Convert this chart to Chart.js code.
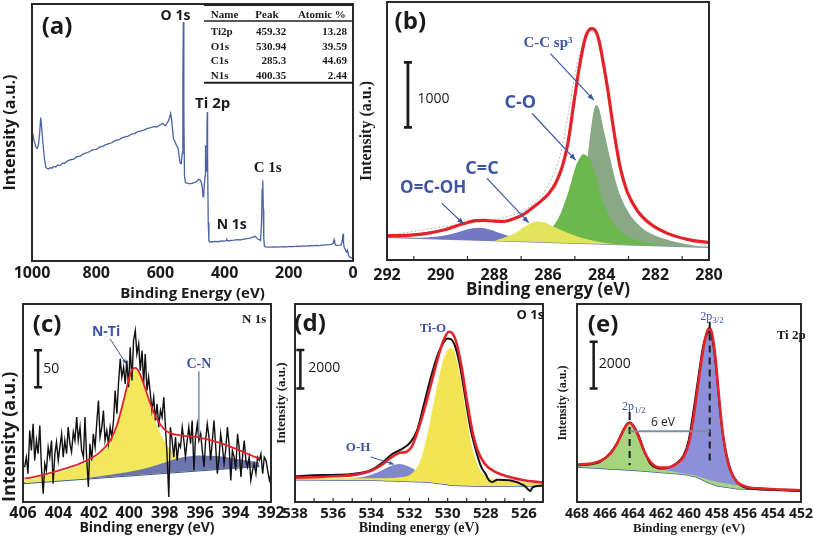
<!DOCTYPE html>
<html><head><meta charset="utf-8">
<script src="https://cdn.jsdelivr.net/npm/chart.js@4/dist/chart.umd.min.js"></script>
<style>
html,body{margin:0;padding:0;background:#fff}
body{width:813px;height:537px;position:relative;overflow:hidden}
canvas{position:absolute}
</style></head><body>
<canvas id="ca"></canvas><canvas id="cb"></canvas><canvas id="cc"></canvas><canvas id="cd"></canvas><canvas id="ce"></canvas>
<script>
// ===================== DATA =====================
// (a) survey spectrum: binding energy (eV) / intensity (a.u.)
const surveyE = [1000,997,993,988,984,980,976,973,970,966,961,957,953,948,944,938,932,926,920,912,905,898,890,880,870,860,850,840,830,820,810,800,790,780,770,760,750,740,730,720,710,700,690,680,670,660,650,640,630,620,610,600,592,585,580,575,571,568,565,562,559,555,550,545,541,538,535,532,530,528.5,527,525,522,515,508,500,492,486,481,477,473,470,467,465,463,461,460,459,457,455,454,453,451,449,446,440,430,420,410,400,395,393,390,380,370,360,350,340,330,320,310,305,300,295,291,288,285,283,281,279.5,278,276,273,265,255,245,235,225,215,205,195,185,175,165,155,145,135,125,115,105,95,85,75,68,62,59,57,54,48,42,37,34,31,29.5,27,24,21,19,17,14,10,5,0];
const surveyI = [49.6,49,46.5,44.5,43.8,45,50,55.8,52,46,39.5,36.5,36,35.8,36.3,36.1,36.8,36.6,37.4,37.2,38.1,38,38.9,39.4,39.6,40.6,40.8,41.7,42.1,42.6,43.3,43.4,44.3,44.6,45.3,45.7,46.1,46.9,47.1,47.9,48.3,48.6,49.4,49.6,50.3,50.6,51,51.6,51.9,52.3,52.2,53,53.6,52.6,53.5,54.5,56,57.4,55,51,47.5,46.5,45,44,40,38,37.9,42,70,93,60,33,30.5,30.2,30,30.3,30.6,31,31.8,31.6,30.8,29,25,26,30,33,45,41,35,50,58,40,15,8,7.4,7.4,7.6,7.5,7.8,7.7,8,8.4,7.8,8,8.1,8.3,8.2,8.5,8.7,8.9,9.4,9.6,9,8.4,8.3,8,15,28,31.4,20,9,5.8,5.5,5.4,5.4,5.5,5.4,5.5,5.6,5.5,5.7,5.6,5.8,5.7,5.9,5.8,6,5.9,6.1,6,6.2,6.3,6.4,6.5,6.8,8.3,7,6.2,6.1,6.2,6.3,7.5,10.6,7,5,4.6,3.5,3.6,4.2,2.2,1.6,1.2,1.0];
const surveyTicks = [0,200,400,600,800,1000];
const tableNames = ['Ti2p','O1s','C1s','N1s'];
const tablePeaks = [459.32,530.94,285.3,400.35];
const tableAtomic = [13.28,39.59,44.69,2.44];

// (b) C 1s
const c1sE = [292,291.13,290.51,289.89,289.39,289.02,288.71,288.39,288.02,287.65,287.28,286.9,286.53,286.22,285.97,285.72,285.47,285.26,285.04,284.81,284.6,284.46,284.35,284.23,284.1,283.98,283.79,283.54,283.3,283.05,282.67,282.18,281.55,280.81,280];
const c1sEnv = [374,384,410,461,528,574,605,610,599,594,635,707,820,922,1025,1178,1434,1793,2408,3023,3432,3545,3560,3525,3381,3125,2664,1972,1409,1050,758,553,410,318,266];
const c1sRawE = [292,290.69,289.26,288.02,286.78,286.03,285.53,285.22,284.91,284.6,284.29,284.04,283.73,283.42,283.05,282.43,281.43,280];
const c1sRaw = [374,461,553,625,794,1127,1639,2305,3023,3407,3509,3227,2510,1691,1076,666,410,205];
const c1sBaseE = [292,286,280];
const c1sBase = [348,272,195];
const ocohE = [291.0,290.51,289.89,289.39,289.02,288.58,288.15,287.77,287.28,286.53,286.2];
const ocohI = [335,348,374,425,471,497,466,410,348,287,275];
const ccE = [288.0,287.65,287.15,286.78,286.4,286.09,285.66,285.16,284.54,283.79,283.0];
const ccI = [297,343,430,533,594,574,487,400,318,256,233];
const coE = [286.6,286.28,285.91,285.53,285.22,284.97,284.79,284.69,284.54,284.35,284.17,283.92,283.54,283.05,282.43,281.55,281.0];
const coI = [280,318,461,717,1076,1434,1588,1629,1598,1460,1230,871,553,369,277,220,208];
const sp3E = [285.9,285.53,285.16,284.85,284.6,284.42,284.29,284.22,284.1,283.92,283.67,283.42,283.05,282.55,282.05,281.43,280.68,280.2];
const sp3I = [271,384,512,820,1332,1947,2305,2382,2331,1998,1537,1127,768,512,384,297,231,198];
const c1sTicks = [280,282,284,286,288,290,292];

// (c) N 1s
const n1sRawE = [405.91,405.81,405.72,405.62,405.53,405.43,405.34,405.24,405.15,405.05,404.96,404.86,404.77,404.68,404.58,404.49,404.39,404.30,404.20,404.11,404.01,403.92,403.82,403.73,403.64,403.54,403.45,403.35,403.26,403.16,403.07,402.97,402.88,402.78,402.69,402.59,402.50,402.41,402.31,402.22,402.12,402.03,401.93,401.84,401.74,401.65,401.55,401.46,401.37,401.27,401.18,401.08,400.99,400.89,400.80,400.70,400.61,400.51,400.42,400.32,400.23,400.14,400.04,399.95,399.85,399.76,399.66,399.57,399.47,399.38,399.28,399.19,399.10,399.00,398.91,398.81,398.72,398.62,398.53,398.43,398.34,398.24,398.15,398.05,397.96,397.87,397.77,397.68,397.58,397.49,397.39,397.30,397.20,397.11,397.01,396.92,396.83,396.73,396.64,396.54,396.45,396.35,396.26,396.16,396.07,395.97,395.88,395.78,395.69,395.60,395.50,395.41,395.31,395.22,395.12,395.03,394.93,394.84,394.74,394.65,394.56,394.46,394.37,394.27,394.18,394.08,393.99,393.89,393.80,393.70,393.61,393.51,393.42,393.33,393.23,393.14,393.04,392.95,392.85,392.76,392.66,392.57,392.47,392.38,392.28,392.19,392.09,392.00];
const n1sRaw = [47.3,60.8,38.3,96.8,69.8,105.8,56.3,83.3,65.3,103.6,47.3,11.3,51.8,42.8,74.3,60.8,83.3,24.8,65.3,81.1,56.3,74.3,92.3,60.8,83.3,65.3,101.3,78.8,67.6,94.6,83.3,114.9,83.3,101.3,69.8,60.8,114.9,60.8,20.3,78.8,56.3,92.3,74.3,105.8,137.4,87.8,101.3,123.9,83.3,96.8,78.8,101.3,87.8,110.3,150.9,119.4,159.9,193.7,168.9,182.4,159.9,191.4,155.4,209.4,164.4,218.4,232.0,200.4,213.9,177.9,204.9,159.9,200.4,150.9,168.9,146.4,123.9,141.9,110.3,132.9,101.3,123.9,114.9,141.9,101.3,65.3,6.8,101.3,83.3,60.8,87.8,56.3,78.8,74.3,101.3,83.3,60.8,83.3,101.3,78.8,110.3,42.8,87.8,105.8,83.3,92.3,69.8,47.3,83.3,105.8,87.8,56.3,83.3,110.3,74.3,38.3,60.8,92.3,74.3,51.8,69.8,101.3,78.8,29.3,69.8,60.8,42.8,92.3,74.3,33.8,60.8,83.3,56.3,47.3,60.8,29.3,42.8,51.8,38.3,60.8,56.3,65.3,38.3,60.8,56.3,42.8,29.3,38.3];
const n1sEnvE = [405.91,405.43,404.49,403.54,402.59,401.65,401.08,400.7,400.32,400.04,399.85,399.66,399.47,399.19,398.81,398.43,398.05,397.68,397.11,396.54,395.97,395.03,394.08,393.33,392.66];
const n1sEnv = [31.5,33.8,39.2,45.9,54.0,67.6,83.3,103.6,137.4,164.4,178.8,181.5,177.0,159.9,132.9,111.7,99.1,93.2,90.1,88.7,86.9,81.1,73.0,65.3,58.6];
const ntiE = [405.91,404.49,403.54,402.59,401.65,401.08,400.7,400.32,400.04,399.76,399.47,399.19,398.81,398.43,398.05,397.68,397.3,397.01,396.73,395.97,394.08,392.66];
const ntiI = [29.3,36.9,43.7,51.8,65.3,81.1,101.3,135.1,162.1,179.3,174.3,156.3,128.4,103.6,83.3,70.7,63.1,56.0,47.0,44.5,47.5,50.0];
const cnE = [402.5,401.65,399.76,398.81,397.87,396.92,395.97,395.03,394.08,393.14,392.66];
const cnI = [31.7,34.7,41.9,47.3,54.5,60.8,63.1,62.2,59.0,55.4,53.6];
const n1sBaseE = [406,392.66];
const n1sBase = [25.4,48.6];
const n1sTicks = [392,394,396,398,400,402,404,406];

// (d) O 1s
const o1sEnvE = [538,536.65,535.72,534.79,534.04,533.48,532.92,532.54,532.17,531.89,531.61,531.23,530.86,530.49,530.21,529.93,529.74,529.55,529.27,528.99,528.71,528.43,528.06,527.5,526.75,526,525.25,524.69];
const o1sEnv = [1269,1304,1356,1426,1617,1913,2348,2556,2609,2869,3565,4782,6173,7565,8434,8869,8782,8347,7043,5304,3739,2695,2000,1565,1304,1130,1043,991];
const o1sRawE = [538,537.03,536.09,535.16,534.04,533.48,532.92,532.36,531.98,531.61,531.23,530.86,530.49,530.21,530.02,529.83,529.64,529.36,529.08,528.8,528.52,528.24,528.02,527.83,527.64,527.4,526.75,526,525.66,525.53,524.69];
const o1sRaw = [1339,1391,1409,1443,1652,2000,2487,2782,3078,3704,5130,6556,7739,8312,8521,8486,8208,7130,5478,3826,2695,1826,1478,1130,1043,1165,1130,870,574,783,870];
const tioE = [538,535.72,533.85,532.36,531.79,531.42,531.05,530.77,530.49,530.21,529.96,529.83,529.64,529.36,529.08,528.8,528.52,528.24,527.87,527.31,526.37,524.69];
const tioI = [1235,1235,1235,1304,1565,2174,3565,4956,6347,7478,7947,8034,7826,6695,4956,3217,2174,1565,1269,1130,1043,991];
const ohE = [535.16,534.22,533.66,533.1,532.73,532.5,532.17,531.79,531.42,530.86,530.11];
const ohI = [1217,1356,1548,1826,1948,1982,1896,1722,1478,1217,1043];
const o1sBaseE = [538,533.85,531.05,529.74,528.24,524.69];
const o1sBase = [1165,1130,1043,870,817,852];
const o1sTicks = [526,528,530,532,534,536,538];

// (e) Ti 2p
const tiEnvE = [468,467.05,466.33,465.62,465.14,464.79,464.48,464.24,463.95,463.6,463.24,462.76,462.29,461.81,461.33,460.86,460.38,460.02,459.67,459.31,458.95,458.71,458.52,458.36,458.12,457.88,457.64,457.4,457.05,456.57,455.86,454.67,453.24,452];
const tiEnv = [1600,1643,1758,2072,2501,2929,3287,3401,3215,2787,2215,1715,1500,1472,1500,1643,1929,2501,3644,5216,6645,7288,7431,7216,6216,4644,3215,2215,1358,857,643,572,529,500];
const tiRawE = [468,467.05,466.33,465.62,465.14,464.79,464.48,464.24,463.95,463.6,463.24,462.76,462.29,461.81,461.33,460.86,460.38,460.02,459.67,459.31,458.95,458.71,458.52,458.24,458,457.76,457.52,457.17,456.81,456.33,455.62,454.43,453.24,452];
const tiRaw = [1572,1615,1729,2101,2529,2958,3301,3387,3244,2858,2258,1643,1458,1429,1500,1672,2001,2644,3930,5430,6788,7216,7288,6645,5359,3787,2644,1643,1072,715,572,529,500,472];
const p12E = [468,466.81,465.86,465.14,464.67,464.24,463.83,463.48,463,462.52,462.05,461.33,460.38,459.19,458.48,457.52,455.62,453.24,452];
const p12I = [1572,1643,1958,2472,3001,3358,3144,2644,2001,1615,1429,1329,1215,1072,929,815,643,557,529];
const p32E = [462.76,461.57,460.86,460.38,460.02,459.67,459.31,458.95,458.71,458.52,458.36,458.12,457.88,457.64,457.4,457.05,456.69,456.33,455.86];
const p32I = [1386,1429,1572,1858,2429,3573,5144,6573,7216,7388,7188,6188,4616,3215,2215,1429,929,643,557];
const tiBaseE = [468,463.95,460.38,459.43,458.71,458,456.57,452];
const tiBase = [1500,1358,1186,1072,857,700,572,472];
const tiTicks = [452,454,456,458,460,462,464,466,468];

// ===================== HELPERS =====================
const SANS = "'Open Sans', Roboto, 'DejaVu Sans', sans-serif";
const SERIF = "'Liberation Serif', 'DejaVu Serif', serif";
const TXT = '#1a1a1a';
const BLUE = '#3d55a3';
const RED = '#e3232a';
Chart.defaults.font.family = SANS;

const P = (xs, ys) => xs.map((x, i) => ({x, y: ys[i]}));
function L(xs, ys, color, w, extra) {
  return Object.assign({data: P(xs, ys), borderColor: color, borderWidth: w, pointRadius: 0, fill: false, tension: 0}, extra || {});
}
function F(xs, ys, color, target) {
  return {data: P(xs, ys), borderColor: 'rgba(0,0,0,0)', borderWidth: 0, backgroundColor: color,
          pointRadius: 0, fill: target, cubicInterpolationMode: 'monotone'};
}
const f = (size, weight, family) => `${weight || 'normal'} ${size}px ${family || SANS}`;

function annotPlugin(items) {
  return {id: 'annot', afterDraw(chart) {
    const ctx = chart.ctx, sx = chart.scales.x, sy = chart.scales.y;
    const X = v => sx.getPixelForValue(v), Y = v => sy.getPixelForValue(v);
    ctx.save();
    for (const it of items) {
      if (it.t === 'text') {
        ctx.font = it.font; ctx.fillStyle = it.color || TXT;
        ctx.textAlign = it.align || 'center'; ctx.textBaseline = 'middle';
        ctx.fillText(it.s, X(it.x), Y(it.y));
      } else if (it.t === 'sub') {
        ctx.fillStyle = it.color || TXT; ctx.textBaseline = 'alphabetic'; ctx.textAlign = 'left';
        ctx.font = it.font; const w1 = ctx.measureText(it.s).width;
        ctx.font = it.subFont; const w2 = ctx.measureText(it.sub).width;
        const x0 = X(it.x) - (w1 + w2) / 2, yb = Y(it.y) + 4;
        ctx.font = it.font; ctx.fillText(it.s, x0, yb);
        ctx.font = it.subFont; ctx.fillText(it.sub, x0 + w1, yb + 3);
      } else if (it.t === 'line') {
        const x1 = X(it.x1), y1 = Y(it.y1), x2 = X(it.x2), y2 = Y(it.y2);
        ctx.strokeStyle = it.color; ctx.lineWidth = it.w; ctx.setLineDash(it.dash || []);
        ctx.beginPath(); ctx.moveTo(x1, y1); ctx.lineTo(x2, y2); ctx.stroke(); ctx.setLineDash([]);
        if (it.arrow) {
          const a = Math.atan2(y2 - y1, x2 - x1), h = it.arrow;
          ctx.fillStyle = it.color; ctx.beginPath(); ctx.moveTo(x2, y2);
          ctx.lineTo(x2 - h * Math.cos(a - 0.38), y2 - h * Math.sin(a - 0.38));
          ctx.lineTo(x2 - h * Math.cos(a + 0.38), y2 - h * Math.sin(a + 0.38));
          ctx.closePath(); ctx.fill();
        }
      } else if (it.t === 'bar') {
        const x = X(it.x), y1 = Y(it.y1), y2 = Y(it.y2), c = it.cap || 4;
        ctx.strokeStyle = TXT; ctx.lineWidth = it.w || 2.5;
        ctx.beginPath(); ctx.moveTo(x, y1); ctx.lineTo(x, y2);
        ctx.moveTo(x - c, y1); ctx.lineTo(x + c, y1); ctx.moveTo(x - c, y2); ctx.lineTo(x + c, y2); ctx.stroke();
      }
    }
    ctx.restore();
  }};
}
function framePlugin(lw, minor) {
  return {id: 'frame', afterDatasetsDraw(chart) {
    const ctx = chart.ctx, a = chart.chartArea;
    ctx.save(); ctx.strokeStyle = '#2a2a2a'; ctx.lineWidth = lw;
    ctx.strokeRect(a.left, a.top, a.right - a.left, a.bottom - a.top);
    if (minor) {
      ctx.lineWidth = 1.2; ctx.beginPath();
      for (const v of minor) { const x = chart.scales.x.getPixelForValue(v); ctx.moveTo(x, a.bottom); ctx.lineTo(x, a.bottom - 4); }
      ctx.stroke();
    }
    ctx.restore();
  }};
}

function panel(id, fr, c) {
  const cv = document.getElementById(id);
  const W = fr.R - fr.L + c.wy + c.pr, H = fr.B - fr.T + c.pt + c.hx;
  cv.width = W; cv.height = H;
  cv.style.left = (fr.L - c.wy) + 'px'; cv.style.top = (fr.T - c.pt) + 'px';
  cv.style.width = W + 'px'; cv.style.height = H + 'px';
  return new Chart(cv, {
    type: 'line',
    data: {datasets: c.datasets},
    options: {
      responsive: false, maintainAspectRatio: false, animation: false, devicePixelRatio: 1,
      layout: {padding: {left: 0, top: c.pt, right: c.pr, bottom: 0}},
      plugins: {legend: {display: false}, tooltip: {enabled: false}},
      scales: {
        x: {type: 'linear', reverse: true, min: c.xmin, max: c.xmax,
            grid: {display: false, drawTicks: false}, border: {display: false},
            ticks: {autoSkip: false, maxRotation: 0, minRotation: 0, padding: c.tickPad, color: TXT,
                    font: c.tickFont, callback: v => String(v)},
            afterBuildTicks: s => { s.ticks = c.ticks.map(v => ({value: v})); },
            afterFit: s => { s.height = c.hx; },
            title: {display: true, text: c.xTitle, color: TXT, font: c.xTitleFont, padding: {top: 0, bottom: c.xTitlePad}}},
        y: {type: 'linear', min: c.ymin, max: c.ymax,
            grid: {display: false, drawTicks: false}, border: {display: false},
            ticks: {display: false},
            afterFit: s => { s.width = c.wy; },
            title: {display: true, text: c.yTitle, color: TXT, font: c.yTitleFont, align: c.yAlign || 'center',
                    padding: {top: c.yTitlePad, bottom: 0}}}
      }
    },
    plugins: [framePlugin(2, c.minor), annotPlugin(c.annot)]
  });
}

// ===================== (a) =====================
const tableItems = [];
const TF = f(11, 'bold', SERIF);
tableItems.push({t: 'line', x1: 464, y1: 99.6, x2: 1, y2: 99.6, color: '#222', w: 2});
tableItems.push({t: 'line', x1: 464, y1: 93.4, x2: 1, y2: 93.4, color: '#222', w: 1.5});
tableItems.push({t: 'line', x1: 464, y1: 69.4, x2: 1, y2: 69.4, color: '#222', w: 2});
tableItems.push({t: 'text', s: 'Name', x: 443, y: 95.6, font: TF, align: 'left'});
tableItems.push({t: 'text', s: 'Peak', x: 268, y: 95.6, font: TF});
tableItems.push({t: 'text', s: 'Atomic %', x: 97, y: 95.6, font: TF});
const rowY = [89.0, 83.3, 77.6, 71.9];
tableNames.forEach((n, i) => {
  tableItems.push({t: 'text', s: n, x: 443, y: rowY[i], font: TF, align: 'left'});
  tableItems.push({t: 'text', s: String(tablePeaks[i]), x: 208, y: rowY[i], font: TF, align: 'right'});
  tableItems.push({t: 'text', s: String(tableAtomic[i]), x: 19, y: rowY[i], font: TF, align: 'right'});
});
panel('ca', {L: 32, T: 4, R: 353, B: 261}, {
  wy: 32, pr: 20, pt: 4, hx: 42, xmin: 0, xmax: 1000, ymin: 0, ymax: 100, ticks: surveyTicks,
  tickPad: 3, tickFont: {size: 16, weight: 'bold', family: SANS},
  xTitle: 'Binding Energy (eV)', xTitleFont: {size: 15, weight: 'bold', family: SANS, lineHeight: 1}, xTitlePad: 2,
  yTitle: 'Intensity (a.u.)', yTitleFont: {size: 16, weight: 'bold', family: SANS, lineHeight: 1}, yTitlePad: 2,
  datasets: [L(surveyE, surveyI, '#4a63a7', 1.3)],
  annot: tableItems.concat([
    {t: 'text', s: '(a)', x: 922, y: 90.9, font: f(24, 'bold')},
    {t: 'text', s: 'O 1s', x: 553, y: 95.2, font: f(14, 'bold')},
    {t: 'text', s: 'Ti 2p', x: 437, y: 61, font: f(15, 'bold')},
    {t: 'text', s: 'C 1s', x: 266, y: 36, font: f(15, 'bold', SERIF)},
    {t: 'text', s: 'N 1s', x: 378, y: 13.9, font: f(14, 'bold')}
  ])
});

// ===================== (b) =====================
panel('cb', {L: 387, T: 2, R: 709, B: 260}, {
  wy: 30, pr: 20, pt: 2, hx: 40, xmin: 280, xmax: 292, ymin: 0, ymax: 3970, ticks: c1sTicks,
  minor: [281, 283, 285, 287, 289, 291],
  tickPad: 6, tickFont: {size: 16, weight: 'bold', family: SANS},
  xTitle: 'Binding energy (eV)', xTitleFont: {size: 17, weight: 'bold', family: SANS, lineHeight: 1}, xTitlePad: 1.5,
  yTitle: 'Intensity (a.u.)', yTitleFont: {size: 16, weight: 'bold', family: SERIF, lineHeight: 1}, yTitlePad: 2,
  datasets: [
    L(c1sE, c1sEnv, RED, 3.2, {cubicInterpolationMode: 'monotone'}),
    L(c1sRawE, c1sRaw, '#b4b4b4', 1, {borderDash: [2, 2], cubicInterpolationMode: 'monotone'}),
    F(ccE, ccI, '#e4e45c', 7),
    F(ocohE, ocohI, '#7378c4', 7),
    F(coE, coI, '#6db74f', 7),
    F(sp3E, sp3I, '#88a886', 7),
    L(c1sBaseE, c1sBase, 'rgba(0,0,0,0)', 0),
    L(c1sBaseE, c1sBase, '#8088b4', 1.3)
  ],
  annot: [
    {t: 'text', s: '(b)', x: 291.13, y: 3663, font: f(24, 'bold')},
    {t: 'bar', x: 291.22, y1: 2040, y2: 3040, cap: 4, w: 2.8},
    {t: 'text', s: '1000', x: 290.86, y: 2484, font: f(14), align: 'left'},
    {t: 'text', s: 'C-C sp³', x: 286.0, y: 3340, font: f(15, 'bold', SERIF), color: BLUE},
    {t: 'line', x1: 285.91, y1: 3176, x2: 284.29, y2: 2459, color: BLUE, w: 1.2, arrow: 7},
    {t: 'text', s: 'C-O', x: 287.03, y: 2418, font: f(18, 'bold'), color: BLUE},
    {t: 'line', x1: 286.59, y1: 2254, x2: 284.97, y2: 1537, color: BLUE, w: 1.2, arrow: 7},
    {t: 'text', s: 'C=C', x: 288.46, y: 1409, font: f(18, 'bold'), color: BLUE},
    {t: 'line', x1: 288.27, y1: 1255, x2: 286.72, y2: 574, color: BLUE, w: 1.2, arrow: 7},
    {t: 'text', s: 'O=C-OH', x: 290.28, y: 1101, font: f(17, 'bold'), color: BLUE},
    {t: 'line', x1: 289.95, y1: 871, x2: 289.14, y2: 553, color: BLUE, w: 1.2, arrow: 7}
  ]
});

// ===================== (c) =====================
panel('cc', {L: 23, T: 304, R: 271, B: 502}, {
  wy: 23, pr: 20, pt: 4, hx: 35, xmin: 392, xmax: 406, ymin: 0, ymax: 268, ticks: n1sTicks,
  tickPad: 2, tickFont: {size: 16, weight: 'bold', family: SANS},
  xTitle: 'Binding energy (eV)', xTitleFont: {size: 14, weight: 'bold', family: SANS, lineHeight: 1}, xTitlePad: 2,
  yTitle: 'Intensity (a.u.)', yTitleFont: {size: 18, weight: 'bold', family: SANS, lineHeight: 1}, yTitlePad: 1, yAlign: 'start',
  datasets: [
    L(n1sEnvE, n1sEnv, RED, 1.8, {cubicInterpolationMode: 'monotone'}),
    L(n1sRawE, n1sRaw, '#111', 1.4),
    F(cnE, cnI, '#6d75ad', 4),
    F(ntiE, ntiI, '#f3e75c', 4),
    L(n1sBaseE, n1sBase, '#2f54a5', 2)
  ],
  annot: [
    {t: 'text', s: '(c)', x: 404.64, y: 240, font: f(24, 'bold')},
    {t: 'text', s: 'N 1s', x: 392.95, y: 246.8, font: f(13, 'bold', SERIF)},
    {t: 'text', s: 'N-Ti', x: 401.31, y: 229.7, font: f(14, 'bold'), color: BLUE},
    {t: 'line', x1: 401.08, y1: 220.7, x2: 400.17, y2: 186.9, color: BLUE, w: 1, arrow: 5},
    {t: 'text', s: 'C-N', x: 396.07, y: 186.9, font: f(14, 'bold', SERIF), color: BLUE},
    {t: 'line', x1: 396.07, y1: 177, x2: 396.07, y2: 87.8, color: '#5a6db0', w: 1.2},
    {t: 'bar', x: 405.15, y1: 155.4, y2: 205.4, cap: 4, w: 2.5},
    {t: 'text', s: '50', x: 404.86, y: 180, font: f(14), align: 'left'}
  ]
});

// ===================== (d) =====================
panel('cd', {L: 295, T: 304, R: 543, B: 502}, {
  wy: 25, pr: 20, pt: 4, hx: 35, xmin: 525, xmax: 538, ymin: 0, ymax: 10313, ticks: o1sTicks,
  minor: [526, 527, 528, 529, 530, 531, 532, 533, 534, 535, 536, 537],
  tickPad: 3, tickFont: {size: 15, weight: 'bold', family: SANS},
  xTitle: 'Binding energy (eV)', xTitleFont: {size: 14, weight: 'bold', family: SERIF, lineHeight: 1}, xTitlePad: 2,
  yTitle: 'Intensity (a.u.)', yTitleFont: {size: 13, weight: 'bold', family: SERIF, lineHeight: 1}, yTitlePad: 5,
  datasets: [
    L(o1sEnvE, o1sEnv, RED, 2.6, {cubicInterpolationMode: 'monotone'}),
    L(o1sRawE, o1sRaw, '#111', 2, {cubicInterpolationMode: 'monotone'}),
    F(tioE, tioI, '#f3e552', 4),
    F(ohE, ohI, '#8088c9', 4),
    L(o1sBaseE, o1sBase, '#3b5aa5', 1.6)
  ],
  annot: [
    {t: 'text', s: '(d)', x: 537.21, y: 9269, font: f(24, 'bold')},
    {t: 'text', s: 'O 1s', x: 525.66, y: 9738, font: f(13, 'bold')},
    {t: 'text', s: 'Ti-O', x: 530.77, y: 9043, font: f(13, 'bold', SERIF), color: BLUE},
    {t: 'text', s: 'O-H', x: 534.69, y: 2835, font: f(13, 'bold', SERIF), color: BLUE},
    {t: 'line', x1: 534.04, y1: 2348, x2: 532.82, y2: 1965, color: BLUE, w: 1, arrow: 5},
    {t: 'bar', x: 537.72, y1: 5913, y2: 7912, cap: 4, w: 2.5},
    {t: 'text', s: '2000', x: 537.31, y: 6956, font: f(14), align: 'left'}
  ]
});

// ===================== (e) =====================
panel('ce', {L: 577, T: 304, R: 801, B: 502}, {
  wy: 20, pr: 12, pt: 4, hx: 35, xmin: 452, xmax: 468, ymin: 0, ymax: 8474, ticks: tiTicks,
  tickPad: 4, tickFont: {size: 14, weight: 'bold', family: SANS},
  xTitle: 'Binding energy (eV)', xTitleFont: {size: 13, weight: 'bold', family: SERIF, lineHeight: 1}, xTitlePad: 2,
  yTitle: 'Intensity (a.u.)', yTitleFont: {size: 12, weight: 'bold', family: SERIF, lineHeight: 1}, yTitlePad: 0,
  datasets: [
    L(tiEnvE, tiEnv, RED, 2.6, {cubicInterpolationMode: 'monotone'}),
    L(tiRawE, tiRaw, '#111', 2, {cubicInterpolationMode: 'monotone'}),
    F(p12E, p12I, '#a6d47f', 4),
    F(p32E, p32I, '#8d8fd8', 4),
    L(tiBaseE, tiBase, '#3c5c9c', 1.6)
  ],
  annot: [
    {t: 'text', s: '(e)', x: 466.14, y: 7574, font: f(24, 'bold')},
    {t: 'text', s: 'Ti 2p', x: 452.7, y: 7116, font: f(13, 'bold', SERIF)},
    {t: 'sub', s: '2p', sub: '3/2', x: 458.36, y: 7974, font: f(12, 'normal', SERIF), subFont: f(9, 'normal', SERIF), color: BLUE},
    {t: 'sub', s: '2p', sub: '1/2', x: 463.95, y: 4116, font: f(12, 'normal', SERIF), subFont: f(9, 'normal', SERIF), color: BLUE},
    {t: 'line', x1: 458.52, y1: 7431, x2: 458.52, y2: 7717, color: TXT, w: 2},
    {t: 'line', x1: 464.24, y1: 3501, x2: 464.24, y2: 3858, color: TXT, w: 2},
    {t: 'line', x1: 458.52, y1: 7216, x2: 458.52, y2: 1572, color: TXT, w: 2, dash: [7, 5]},
    {t: 'line', x1: 464.24, y1: 3215, x2: 464.24, y2: 1572, color: TXT, w: 2, dash: [7, 5]},
    {t: 'line', x1: 464.24, y1: 3029, x2: 458.52, y2: 3029, color: '#7d8ea0', w: 2},
    {t: 'text', s: '6 eV', x: 461.86, y: 3387, font: f(12)},
    {t: 'bar', x: 466.81, y1: 4859, y2: 6859, cap: 4, w: 2.5},
    {t: 'text', s: '2000', x: 466.45, y: 5902, font: f(14), align: 'left'}
  ]
});
</script>
</body></html>
